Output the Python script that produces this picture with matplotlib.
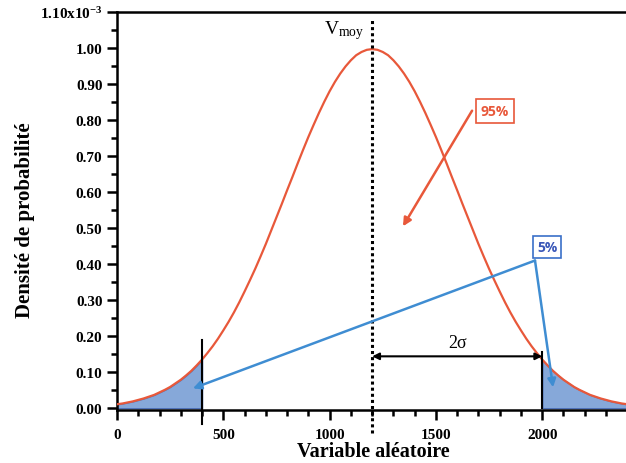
import matplotlib
matplotlib.use("Agg")
import matplotlib.pyplot as plt
import numpy as np

plt.rcParams["mathtext.fontset"] = "custom"
plt.rcParams["mathtext.rm"] = "Liberation Serif"
plt.rcParams["mathtext.it"] = "Liberation Serif:italic"
plt.rcParams["mathtext.bf"] = "Liberation Serif:bold"

# Values (density in units of 1e-3), x every 25
x_vals = list(range(0, 2401, 25))
left_half = [0.011, 0.013, 0.016, 0.019, 0.023, 0.027, 0.032, 0.037, 0.044, 0.051,
             0.059, 0.069, 0.079, 0.091, 0.104, 0.119, 0.135, 0.153, 0.172, 0.193,
             0.216, 0.240, 0.266, 0.294, 0.324, 0.355, 0.387, 0.421, 0.456, 0.493,
             0.530, 0.567, 0.605, 0.642, 0.680, 0.717, 0.753, 0.787, 0.820, 0.851,
             0.880, 0.906, 0.929, 0.949, 0.966, 0.980, 0.989, 0.995]
peak = [0.997]
right_half = [0.995, 0.989, 0.980, 0.966, 0.949, 0.929, 0.906, 0.880, 0.851, 0.820,
              0.787, 0.753, 0.717, 0.680, 0.642, 0.605, 0.567, 0.530, 0.493, 0.456,
              0.421, 0.387, 0.355, 0.324, 0.294, 0.266, 0.240, 0.216, 0.193, 0.172,
              0.153, 0.135, 0.119, 0.104, 0.091, 0.079, 0.069, 0.059, 0.051, 0.044,
              0.037, 0.032, 0.027, 0.023, 0.019, 0.016, 0.013, 0.011]
density = left_half + peak + right_half
x_mean = 1200
x_low = 400
x_high = 2000
y_ticks = [0.00, 0.10, 0.20, 0.30, 0.40, 0.50, 0.60, 0.70, 0.80, 0.90, 1.00, 1.10]
x_ticks = [0, 500, 1000, 1500, 2000]

serif = ["Liberation Serif", "DejaVu Serif"]
red = "#E8583A"
blue_fill = "#86A8D9"
blue_line = "#3F8DD2"

W, H = 626, 464
fig = plt.figure(figsize=(W / 100, H / 100), dpi=100)
ax = fig.add_axes([117 / W, 1 - 411 / H, 1 - 117 / W, (411 - 13) / H])

xa = np.array(x_vals)
ya = np.array(density)
ml = xa <= x_low
mh = xa >= x_high
ax.fill_between(xa[ml], 0, ya[ml], color=blue_fill, edgecolor="#4F72B8", lw=1, zorder=1)
ax.fill_between(xa[mh], 0, ya[mh], color=blue_fill, edgecolor="#4F72B8", lw=1, zorder=1)
ax.plot(x_vals, density, color=red, lw=1.6, zorder=3)

ax.set_xlim(0, 2394)
ax.set_ylim(-0.005, 1.10)

# Vertical lines
ax.plot([x_mean, x_mean], [-0.07, 1.0 + 0.08], color="black", lw=2.2, ls=(0, (1, 1)),
        clip_on=False, zorder=4)
ax.plot([x_low, x_low], [-0.045, 0.19], color="black", lw=1.5, clip_on=False, zorder=4)
ax.plot([x_high, x_high], [0, 0.155], color="black", lw=1.5, clip_on=False, zorder=4)

ax.text(x_mean - 35, 1.02, r"$\mathrm{V}_{\mathrm{moy}}$", ha="right", va="bottom",
        fontsize=14, family=serif)

# 2 sigma arrow
ax.annotate("", xy=(x_mean, 0.144), xytext=(x_high, 0.144),
            arrowprops=dict(arrowstyle="<|-|>", color="black", lw=1.5,
                            shrinkA=0, shrinkB=0, mutation_scale=10), zorder=5)
ax.text((x_mean + x_high) / 2, 0.158, "2σ", ha="center", va="bottom",
        fontsize=13, family=serif)

# 95% box & arrow
ax.annotate("", xy=(1345, 0.505), xytext=(1670, 0.826),
            arrowprops=dict(arrowstyle="-|>", color=red, lw=1.8,
                            shrinkA=0, shrinkB=0, mutation_scale=12), zorder=5)
ax.text(1778, 0.826, "95%", ha="center", va="center", fontsize=10, fontweight="bold",
        color=red, family="Open Sans",
        bbox=dict(boxstyle="square,pad=0.35", fc="white", ec=red, lw=1.2), zorder=6)

# 5% box & arrows
ax.annotate("", xy=(357, 0.055), xytext=(1966, 0.41),
            arrowprops=dict(arrowstyle="-|>", color=blue_line, lw=1.8,
                            shrinkA=0, shrinkB=0, mutation_scale=12), zorder=5)
ax.annotate("", xy=(2051, 0.058), xytext=(1966, 0.41),
            arrowprops=dict(arrowstyle="-|>", color=blue_line, lw=1.8,
                            shrinkA=0, shrinkB=0, mutation_scale=12), zorder=5)
ax.text(2023, 0.448, "5%", ha="center", va="center", fontsize=10, fontweight="bold",
        color="#3A57B8", family="Open Sans",
        bbox=dict(boxstyle="square,pad=0.3", fc="white", ec="#3A6FC8", lw=1.2), zorder=6)

# Axes styling
ax.spines["right"].set_visible(False)
for s in ["left", "bottom", "top"]:
    ax.spines[s].set_linewidth(1.8)
ax.set_yticks(y_ticks)
ylabels = ["%.2f" % v for v in y_ticks]
ylabels[-1] = r"$\mathbf{1.10x10^{-3}}$"
ax.set_yticklabels(ylabels)
ax.set_yticks(np.arange(0.05, 1.10, 0.1), minor=True)
ax.set_xticks(x_ticks)
ax.set_xticklabels([str(v) for v in x_ticks])
ax.set_xticks(np.arange(0, 2400, 100), minor=True)
ax.tick_params(which="major", direction="out", length=7, width=1.8)
ax.tick_params(which="minor", direction="out", length=4, width=1.8)
ax.tick_params(axis="x", which="both", pad=6)
for lab in ax.get_xticklabels() + ax.get_yticklabels():
    lab.set_family(serif)
    lab.set_fontweight("bold")
    lab.set_fontsize(11)

fig.text(373 / W, 1 - 452 / H, "Variable aléatoire", family=serif, fontweight="bold",
         fontsize=14.5, ha="center", va="center")
fig.text(25 / W, 1 - 220 / H, "Densité de probabilité", family=serif, fontweight="bold",
         fontsize=15, ha="center", va="center", rotation=90)

fig.savefig("out.png", dpi=100)
